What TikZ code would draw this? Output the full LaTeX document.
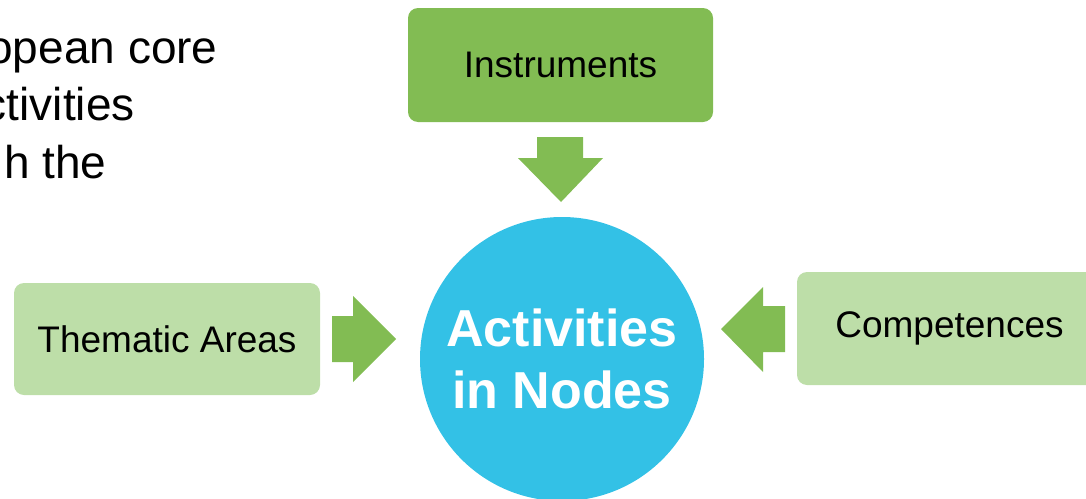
\documentclass[tikz,border=0pt]{standalone}
\usepackage{fontspec}
\setmainfont{Liberation Sans}
\usepackage{tikz}
\definecolor{DarkLeaf}{HTML}{82BC53}
\definecolor{LightLeaf}{HTML}{BDDEA8}
\definecolor{SkyBlue}{HTML}{33C1E6}
\tikzset{
  box/.style={rounded corners=5pt, inner sep=0pt, font=\fontsize{18.5}{22}\selectfont},
  hub/.style={circle, fill=SkyBlue, inner sep=0pt, minimum size=142pt,
     text=white, align=center, font=\fontsize{26}{31}\selectfont\bfseries},
  introline/.style={anchor=base east, inner sep=0pt, font=\fontsize{23}{27.5}\selectfont},
  blockarrow/.style={fill=DarkLeaf}
}
\begin{document}
\begin{tikzpicture}[x=0.5pt, y=-0.5pt]
      \useasboundingbox (0,0) rectangle (1086,498);
      \clip (0,0) rectangle (1086,498);

      \node (intro1) at (218,63) [introline] {opean core};
      \node (intro2) at (135,120.5) [introline] {ctivities};
      \node (intro3) at (107,178) [introline] {h the};

      \node (instr) at (560.5,65) [box, fill=DarkLeaf,
         minimum width=152.5pt, minimum height=57pt] {Instruments};
      \node (areas) at (167,339) [box, fill=LightLeaf,
         minimum width=153pt, minimum height=56pt] {Thematic Areas};
      \node (comp) at (949.5,328.5) [box, fill=LightLeaf,
         minimum width=152.5pt, minimum height=56.5pt] {Competences};
      \node (hub) at (562,359) [hub] {Activities\\in Nodes};

      % block arrows into the hub
      \fill [blockarrow] (537,137) -- (583,137) -- (583,158) -- (603,158)
         -- (561,202) -- (518,158) -- (537,158) -- cycle;
      \fill [blockarrow] (332,316) -- (353,316) -- (353,296) -- (396,339)
         -- (353,382) -- (353,362) -- (332,362) -- cycle;
      \fill [blockarrow] (785,306) -- (763,306) -- (763,287) -- (721,329)
         -- (763,372) -- (763,352) -- (785,352) -- cycle;
   \end{tikzpicture}
\end{document}
